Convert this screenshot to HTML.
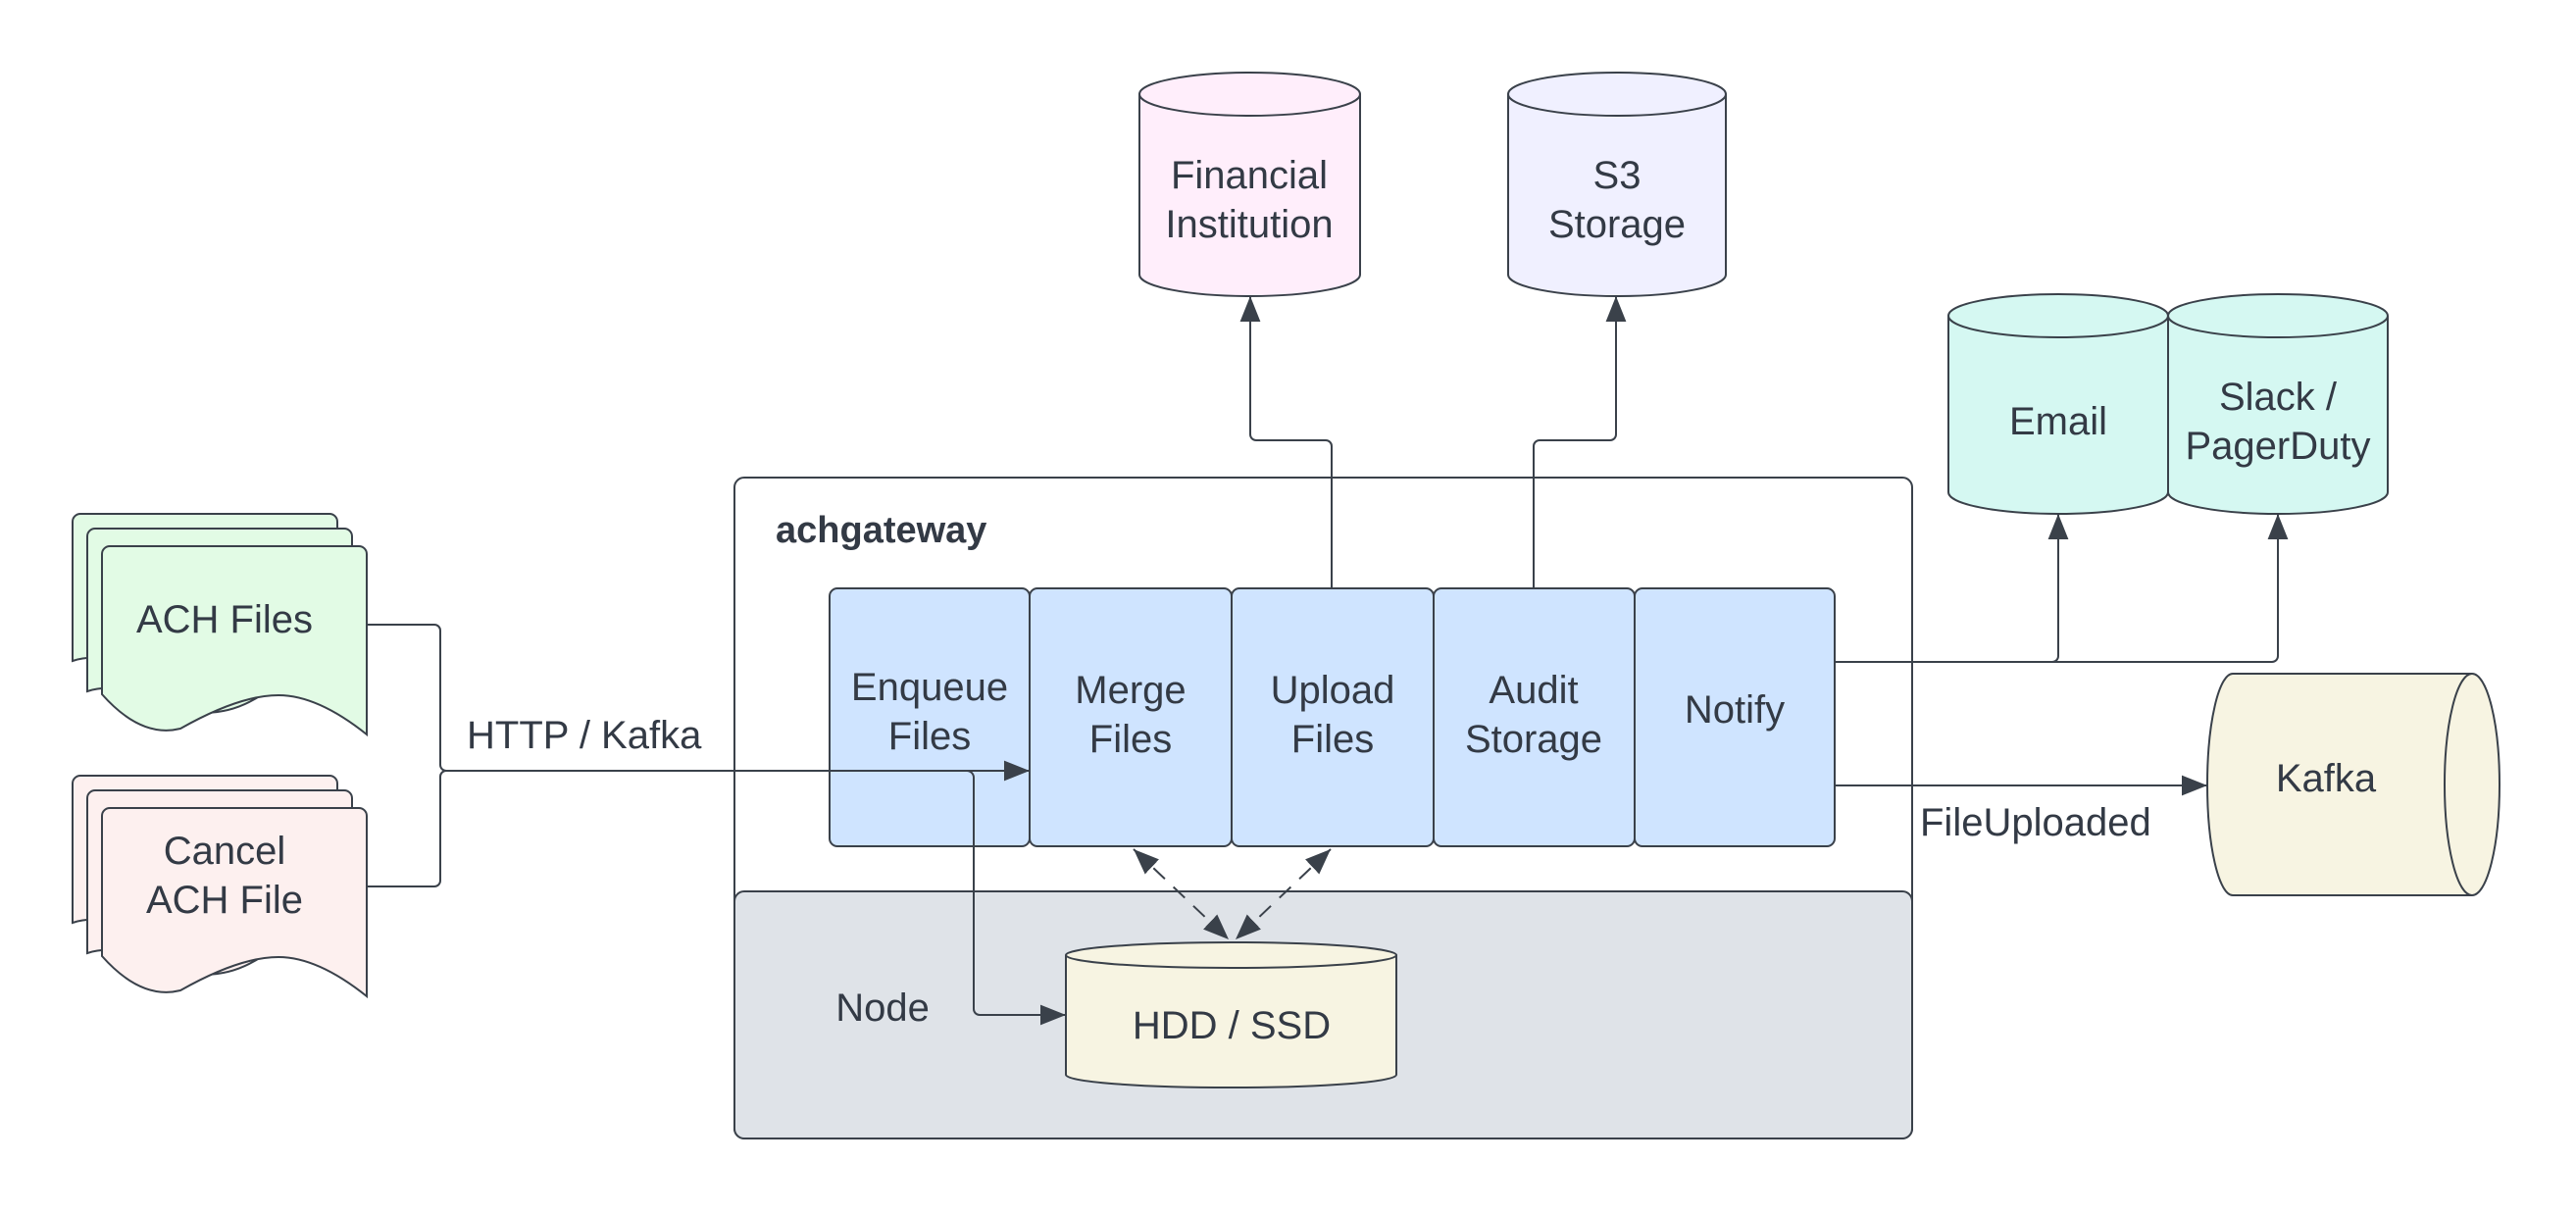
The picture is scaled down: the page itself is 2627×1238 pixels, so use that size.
<!DOCTYPE html>
<html><head><meta charset="utf-8"><style>html,body{margin:0;padding:0;background:#fff}svg{display:block}</style></head><body>
<svg width="2627" height="1238" viewBox="0 0 2627 1238" xmlns="http://www.w3.org/2000/svg" font-family="Liberation Sans, sans-serif" font-size="40" fill="#333a45">
<defs>
<marker id="b" viewBox="0 0 10 10" refX="10" refY="5" markerWidth="26" markerHeight="26" markerUnits="userSpaceOnUse" orient="auto-start-reverse"><path d="M0,1L10,5L0,9z" fill="#3a414a"/></marker>
</defs>
<g stroke="#3a414a" stroke-width="2">
<rect x="749" y="487" width="1201" height="674" rx="10" fill="#fff"/>
<rect x="749" y="909" width="1201" height="252" rx="10" fill="#dfe3e8"/>
<rect x="846" y="600" width="204" height="263" rx="8" fill="#cfe4ff"/>
<rect x="1050" y="600" width="206" height="263" rx="8" fill="#cfe4ff"/>
<rect x="1256" y="600" width="206" height="263" rx="8" fill="#cfe4ff"/>
<rect x="1462" y="600" width="205" height="263" rx="8" fill="#cfe4ff"/>
<rect x="1667" y="600" width="204" height="263" rx="8" fill="#cfe4ff"/>
<path d="M1087,974 L1087,1096 A168,13 0 0 0 1424,1096 L1424,974" fill="#f7f4e2"/>
<ellipse cx="1255.5" cy="974" rx="168.5" ry="13" fill="#f7f4e2"/>
<path d="M1162,96 L1162,280 A112.5,22 0 0 0 1387,280 L1387,96" fill="#ffeefb"/>
<ellipse cx="1274.5" cy="96" rx="112.5" ry="22" fill="#ffeefb"/>
<path d="M1538,96 L1538,280 A111,22 0 0 0 1760,280 L1760,96" fill="#f0f0ff"/>
<ellipse cx="1649" cy="96" rx="111" ry="22" fill="#f0f0ff"/>
<path d="M1987,322 L1987,502 A112,22 0 0 0 2211,502 L2211,322" fill="#d5f8f2"/>
<ellipse cx="2099" cy="322" rx="112" ry="22" fill="#d5f8f2"/>
<path d="M2211,322 L2211,502 A112,22 0 0 0 2435,502 L2435,322" fill="#d5f8f2"/>
<ellipse cx="2323" cy="322" rx="112" ry="22" fill="#d5f8f2"/>
<path d="M2521,687 L2277,687 A26,113 0 0 0 2277,913 L2521,913" fill="#f7f4e2"/>
<ellipse cx="2521" cy="800" rx="28" ry="113" fill="#f7f4e2"/>
<g fill="#e2fbe5">
<path d="M74,532 a8,8 0 0 1 8,-8 h254 a8,8 0 0 1 8,8 v149 q-50,-30 -90,-5 q-50,35 -110,8 q-40,-20 -70,-10z"/>
<path d="M89,547 a8,8 0 0 1 8,-8 h254 a8,8 0 0 1 8,8 v165 q-50,-30 -90,-5 q-50,35 -110,8 q-40,-20 -70,-10z"/>
<path d="M104,565 a8,8 0 0 1 8,-8 h254 a8,8 0 0 1 8,8 v184 q-50,-40 -90,-40 q-40,0 -100,34 q-40,10 -80,-35z"/>
</g>
<g fill="#fdf0ef">
<path d="M74,799 a8,8 0 0 1 8,-8 h254 a8,8 0 0 1 8,8 v149 q-50,-30 -90,-5 q-50,35 -110,8 q-40,-20 -70,-10z"/>
<path d="M89,814 a8,8 0 0 1 8,-8 h254 a8,8 0 0 1 8,8 v165 q-50,-30 -90,-5 q-50,35 -110,8 q-40,-20 -70,-10z"/>
<path d="M104,832 a8,8 0 0 1 8,-8 h254 a8,8 0 0 1 8,8 v184 q-50,-40 -90,-40 q-40,0 -100,34 q-40,10 -80,-35z"/>
</g>
<g fill="none">
<path d="M374,637 H443 a6,6 0 0 1 6,6 V780 a6,6 0 0 0 6,6"/>
<path d="M374,904 H443 a6,6 0 0 0 6,-6 V792 a6,6 0 0 1 6,-6"/>
<path d="M455,786 H1050" marker-end="url(#b)"/>
<path d="M986,786 a7,7 0 0 1 7,7 V1029 a6,6 0 0 0 6,6 H1087" marker-end="url(#b)"/>
<path d="M1358,600 V455 a6,6 0 0 0 -6,-6 H1281 a6,6 0 0 1 -6,-6 V302" marker-end="url(#b)"/>
<path d="M1564,600 V455 a6,6 0 0 1 6,-6 H1642 a6,6 0 0 0 6,-6 V302" marker-end="url(#b)"/>
<path d="M1871,675 H2317 a6,6 0 0 0 6,-6 V524" marker-end="url(#b)"/>
<path d="M2093,675 a6,6 0 0 0 6,-6 V524" marker-end="url(#b)"/>
<path d="M1871,801 H2251" marker-end="url(#b)"/>
<path d="M1156,866 L1253,958" stroke-dasharray="16,12" marker-start="url(#b)" marker-end="url(#b)"/>
<path d="M1357,866 L1260,958" stroke-dasharray="16,12" marker-start="url(#b)" marker-end="url(#b)"/>
</g>
</g>
<g text-anchor="middle">
<text x="229" y="645">ACH Files</text>
<text x="229" y="881">Cancel</text><text x="229" y="931">ACH File</text>
<text x="948" y="714">Enqueue</text><text x="948" y="764">Files</text>
<text x="1153" y="717">Merge</text><text x="1153" y="767">Files</text>
<text x="1359" y="717">Upload</text><text x="1359" y="767">Files</text>
<text x="1564" y="717">Audit</text><text x="1564" y="767">Storage</text>
<text x="1769" y="737">Notify</text>
<text x="1256" y="1059">HDD / SSD</text>
<text x="1274" y="192">Financial</text><text x="1274" y="242">Institution</text>
<text x="1649" y="192">S3</text><text x="1649" y="242">Storage</text>
<text x="2099" y="443">Email</text>
<text x="2323" y="418">Slack /</text><text x="2323" y="468">PagerDuty</text>
<text x="2372" y="807">Kafka</text>
<text x="900" y="1041">Node</text>
</g>
<text x="476" y="763">HTTP / Kafka</text>
<text x="1958" y="852">FileUploaded</text>
<text x="791" y="553" font-weight="bold" font-size="38">achgateway</text>
</svg>
</body></html>
